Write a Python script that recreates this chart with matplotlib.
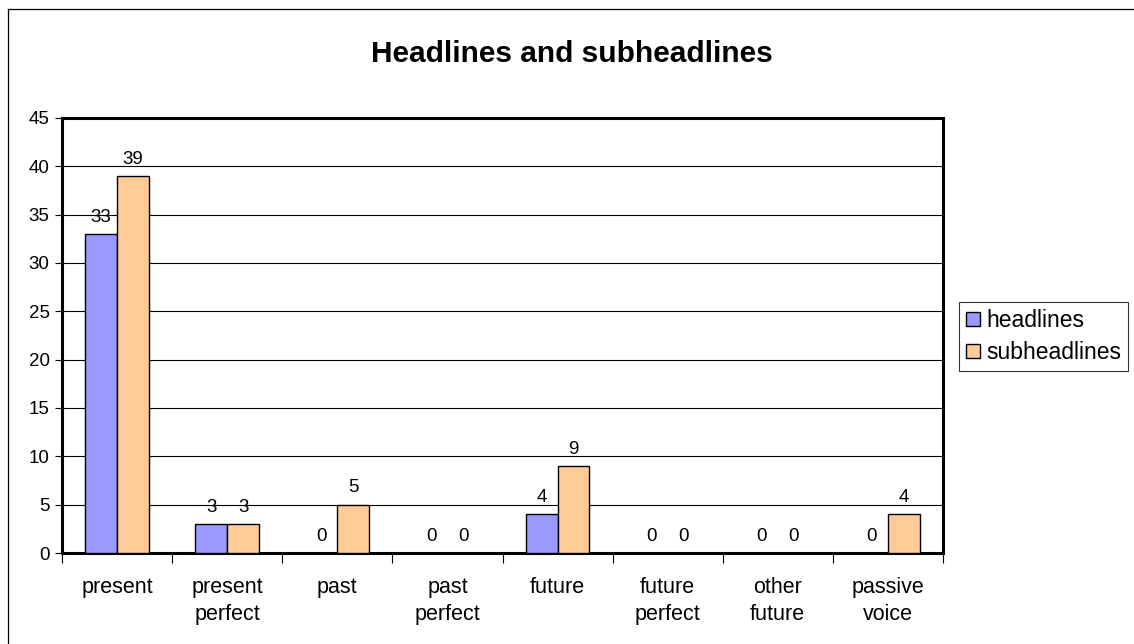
import matplotlib
matplotlib.use("Agg")
import matplotlib.pyplot as plt
from matplotlib.lines import Line2D
import numpy as np

categories = ["present", "present\nperfect", "past", "past\nperfect", "future",
              "future\nperfect", "other\nfuture", "passive\nvoice"]
headlines = [33, 3, 0, 0, 4, 0, 0, 0]
subheadlines = [39, 3, 5, 0, 9, 0, 0, 4]
series_names = ["headlines", "subheadlines"]
title = "Headlines and subheadlines"

plt.rcParams["font.family"] = ["Liberation Sans", "DejaVu Sans"]

fig = plt.figure(figsize=(11.34, 6.44), dpi=100)
ax = fig.add_axes([62 / 1134, 91 / 644, 881 / 1134, 435 / 644])

x = np.arange(len(categories))
w = 0.29
b1 = ax.bar(x - w / 2, headlines, w, color="#9999FF", edgecolor="black",
            linewidth=1.0, label=series_names[0], zorder=3)
b2 = ax.bar(x + w / 2, subheadlines, w, color="#FFCC99", edgecolor="black",
            linewidth=1.0, label=series_names[1], zorder=3)

for bars, vals in ((b1, headlines), (b2, subheadlines)):
    for rect, v in zip(bars, vals):
        ax.annotate(f"{v}", (rect.get_x() + rect.get_width() / 2, v),
                    xytext=(0, 6), textcoords="offset points",
                    ha="center", va="bottom", fontsize=13.5, zorder=4)

ax.set_xlim(-0.5, len(categories) - 0.5)
ax.set_ylim(0, 45)
ax.set_yticks(np.arange(0, 46, 5))
ax.yaxis.grid(True, color="black", linewidth=0.8, zorder=0)
ax.set_axisbelow(True)

ax.set_xticks(x)
ax.set_xticklabels(categories, fontsize=15.5, linespacing=1.4)
ax.set_xticks(np.arange(-0.5, len(categories), 1.0), minor=True)
ax.tick_params(axis="x", which="major", length=0, pad=17)
ax.tick_params(axis="x", which="minor", length=7, width=0.8, direction="out")
ax.tick_params(axis="y", length=5, width=0.8, labelsize=13.5, pad=4)

for s in ax.spines.values():
    s.set_linewidth(2.2)
    s.set_color("black")

fig.suptitle(title, fontsize=21.5, fontweight="bold", x=572 / 1134, y=1 - 54 / 644,
             va="center")

leg = fig.legend(handles=[b1, b2], labels=series_names, loc="upper left",
                 bbox_to_anchor=(959 / 1134, 1 - 302 / 644), fontsize=16.5,
                 frameon=True, fancybox=False, edgecolor="black",
                 handlelength=0.6, handleheight=0.6, handletextpad=0.3,
                 borderpad=0.3, labelspacing=0.4, borderaxespad=0)
leg.get_frame().set_linewidth(0.8)

# outer chart frame (left and top edges visible)
fig.add_artist(Line2D([8 / 1134, 8 / 1134], [0, 1 - 9 / 644], color="black",
                      linewidth=0.9, transform=fig.transFigure))
fig.add_artist(Line2D([8 / 1134, 1], [1 - 9 / 644, 1 - 9 / 644], color="black",
                      linewidth=0.9, transform=fig.transFigure))

fig.savefig("out.png", dpi=100)
